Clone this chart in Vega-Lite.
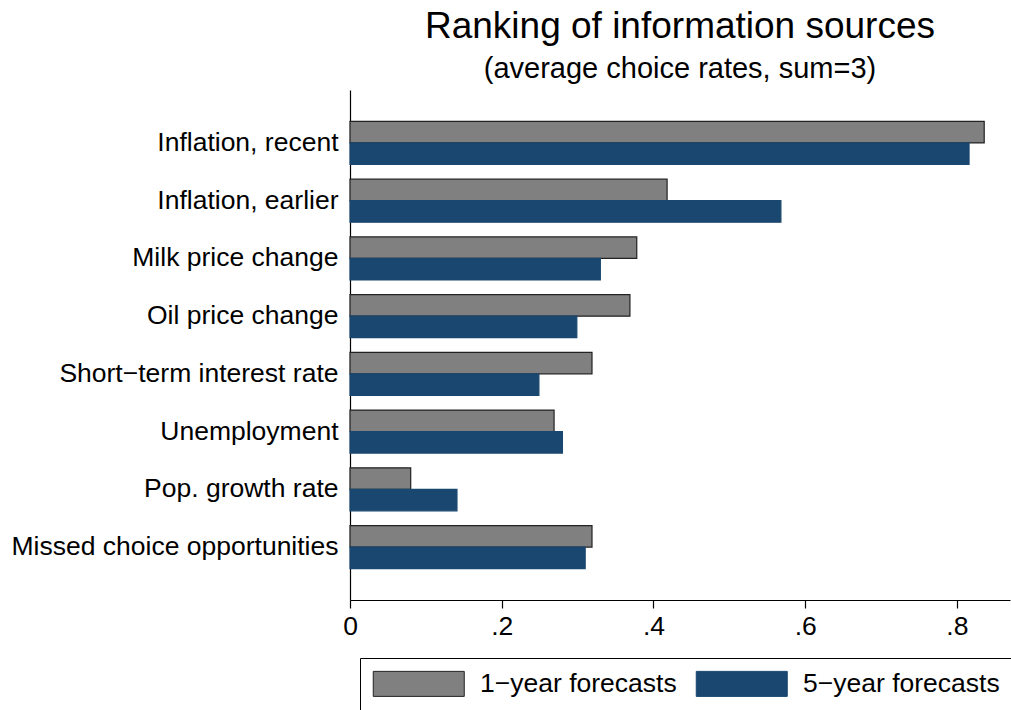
{
  "$schema": "https://vega.github.io/schema/vega-lite/v6.json",
  "width": 660,
  "height": 510,
  "autosize": {"type": "none"},
  "padding": {"left": 350, "top": 90, "right": 1, "bottom": 110},
  "background": "white",
  "title": {
    "text": "Ranking of information sources",
    "subtitle": "(average choice rates, sum=3)",
    "anchor": "middle",
    "frame": "group",
    "font": "Liberation Sans",
    "fontSize": 37,
    "fontWeight": "normal",
    "color": "black",
    "subtitleFont": "Liberation Sans",
    "subtitleFontSize": 29,
    "subtitleColor": "black",
    "subtitlePadding": 9,
    "offset": 5
  },
  "data": {
    "values": [
      {"category": "Inflation, recent", "series": "1\u2212year forecasts", "value": 0.836},
      {"category": "Inflation, recent", "series": "5\u2212year forecasts", "value": 0.816},
      {"category": "Inflation, earlier", "series": "1\u2212year forecasts", "value": 0.418},
      {"category": "Inflation, earlier", "series": "5\u2212year forecasts", "value": 0.568},
      {"category": "Milk price change", "series": "1\u2212year forecasts", "value": 0.378},
      {"category": "Milk price change", "series": "5\u2212year forecasts", "value": 0.330},
      {"category": "Oil price change", "series": "1\u2212year forecasts", "value": 0.369},
      {"category": "Oil price change", "series": "5\u2212year forecasts", "value": 0.299},
      {"category": "Short\u2212term interest rate", "series": "1\u2212year forecasts", "value": 0.319},
      {"category": "Short\u2212term interest rate", "series": "5\u2212year forecasts", "value": 0.249},
      {"category": "Unemployment", "series": "1\u2212year forecasts", "value": 0.269},
      {"category": "Unemployment", "series": "5\u2212year forecasts", "value": 0.280},
      {"category": "Pop. growth rate", "series": "1\u2212year forecasts", "value": 0.080},
      {"category": "Pop. growth rate", "series": "5\u2212year forecasts", "value": 0.141},
      {"category": "Missed choice opportunities", "series": "1\u2212year forecasts", "value": 0.319},
      {"category": "Missed choice opportunities", "series": "5\u2212year forecasts", "value": 0.310}
    ]
  },
  "mark": {"type": "bar", "strokeWidth": 1.2},
  "encoding": {
    "y": {
      "field": "category",
      "type": "nominal",
      "sort": null,
      "scale": {"paddingInner": 0.255, "paddingOuter": 0.545},
      "axis": {
        "title": null,
        "ticks": false,
        "domainColor": "black",
        "domainWidth": 1.2,
        "labelFont": "Liberation Sans",
        "labelFontSize": 26.5,
        "labelColor": "black",
        "labelPadding": 12,
        "labelLimit": 400
      }
    },
    "yOffset": {
      "field": "series",
      "type": "nominal",
      "scale": {"paddingInner": 0, "paddingOuter": 0}
    },
    "x": {
      "field": "value",
      "type": "quantitative",
      "scale": {"domain": [0, 0.87], "nice": false, "zero": true},
      "axis": {
        "title": null,
        "grid": false,
        "values": [0, 0.2, 0.4, 0.6, 0.8],
        "labelExpr": "datum.value == 0 ? '0' : substring(format(datum.value, '.1f'), 1)",
        "domainColor": "black",
        "domainWidth": 1.2,
        "tickColor": "black",
        "tickWidth": 1.2,
        "tickSize": 8,
        "labelFont": "Liberation Sans",
        "labelFontSize": 26.5,
        "labelColor": "black",
        "labelPadding": 5,
        "labelFlush": false
      }
    },
    "fill": {
      "field": "series",
      "type": "nominal",
      "title": null,
      "scale": {"range": ["#808080", "#1a476f"]},
      "legend": {
        "orient": "none",
        "legendX": 10,
        "legendY": 568,
        "direction": "horizontal",
        "columns": 2,
        "strokeColor": "black",
        "padding": 12.5,
        "symbolType": "M-1,-1H6.28V1H-1Z",
        "symbolSize": 625,
        "symbolStrokeWidth": 1,
        "labelFont": "Liberation Sans",
        "labelFontSize": 26.5,
        "labelColor": "black",
        "labelOffset": 81,
        "columnPadding": 16,
        "labelLimit": 400
      }
    },
    "stroke": {
      "field": "series",
      "type": "nominal",
      "title": null,
      "scale": {"range": ["#222222", "#1a476f"]}
    }
  },
  "config": {
    "view": {"stroke": null}
  }
}
